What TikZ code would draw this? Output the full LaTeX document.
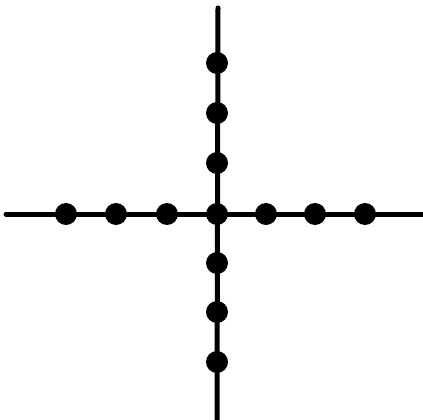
\documentclass[tikz,border=0pt]{standalone}
\begin{document}
\begin{tikzpicture}[x=1pt,y=-1pt,
  dot/.style={circle,fill=black,inner sep=0pt,minimum size=22pt},
  axis/.style={line width=5pt,black}]
\useasboundingbox (0,0) rectangle (423,420);
\coordinate (L) at (6,214);
\coordinate (R) at (423,214);
\coordinate (T) at (218,8);
\coordinate (B) at (217,420);
\draw[axis,line cap=round] (L) -- (R);
\draw[axis,line cap=round] (T) -- (B);
\node[dot] (h1) at (66,214) {};
\node[dot] (h2) at (116,214) {};
\node[dot] (h3) at (167,214) {};
\node[dot] (c) at (217,214) {};
\node[dot] (h5) at (266,214) {};
\node[dot] (h6) at (315,214) {};
\node[dot] (h7) at (365,214) {};
\node[dot] (v1) at (217,63) {};
\node[dot] (v2) at (217,113) {};
\node[dot] (v3) at (217,163) {};
\node[dot] (v5) at (217,263) {};
\node[dot] (v6) at (217,312) {};
\node[dot] (v7) at (217,362) {};
\end{tikzpicture}
\end{document}
